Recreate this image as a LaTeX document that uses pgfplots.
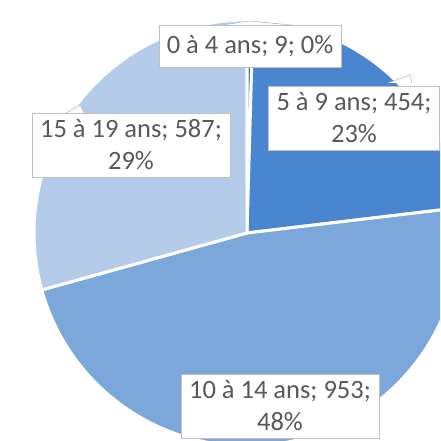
\documentclass[border=0pt]{standalone}
\usepackage{pgfplots}
\pgfplotsset{compat=1.18}
\usepackage{pgfplotstable}
\usepackage{fontspec}
\setmainfont{Carlito}

\definecolor{sliceA}{HTML}{2F5F9E}
\definecolor{sliceB}{HTML}{4A86CF}
\definecolor{sliceC}{HTML}{7CA7DB}
\definecolor{sliceD}{HTML}{B4CCEA}
\definecolor{lbltext}{HTML}{595959}
\definecolor{lblline}{HTML}{BFBFBF}

\tikzset{lbl/.style={fill=white, draw=lblline, text=lbltext, align=center,
    font=\fontsize{26.5}{32}\selectfont, inner xsep=8pt, inner ysep=7pt}}

% age group, count
\pgfplotstableread{
group value
0-4 9
5-9 454
10-14 953
15-19 587
}\agedata

\pgfplotstablegetelem{0}{value}\of\agedata \let\vA\pgfplotsretval
\pgfplotstablegetelem{1}{value}\of\agedata \let\vB\pgfplotsretval
\pgfplotstablegetelem{2}{value}\of\agedata \let\vC\pgfplotsretval
\pgfplotstablegetelem{3}{value}\of\agedata \let\vD\pgfplotsretval
\pgfmathsetmacro\total{\vA+\vB+\vC+\vD}
% slices run clockwise from 12 o'clock
\pgfmathsetmacro\aA{90}
\pgfmathsetmacro\aB{\aA-360*(\vA/\total)}
\pgfmathsetmacro\aC{\aB-360*(\vB/\total)}
\pgfmathsetmacro\aD{\aC-360*(\vC/\total)}
\pgfmathsetmacro\aE{\aD-360*(\vD/\total)}

\def\cx{247}
\def\cy{208}
\def\rad{213pt}

\begin{document}
\begin{tikzpicture}
\begin{axis}[
  width=440pt, height=441pt, scale only axis,
  xmin=0, xmax=440, ymin=0, ymax=441,
  hide axis, clip=true,
]
\filldraw[fill=sliceA, draw=white, line width=3pt]
  (axis cs:\cx,\cy) -- ++(\aA:\rad) arc[start angle=\aA, end angle=\aB, radius=\rad] -- cycle;
\filldraw[fill=sliceB, draw=white, line width=3pt]
  (axis cs:\cx,\cy) -- ++(\aB:\rad) arc[start angle=\aB, end angle=\aC, radius=\rad] -- cycle;
\filldraw[fill=sliceC, draw=white, line width=3pt]
  (axis cs:\cx,\cy) -- ++(\aC:\rad) arc[start angle=\aC, end angle=\aD, radius=\rad] -- cycle;
\filldraw[fill=sliceD, draw=white, line width=3pt]
  (axis cs:\cx,\cy) -- ++(\aD:\rad) arc[start angle=\aD, end angle=\aE, radius=\rad] -- cycle;

% callout pointers
\filldraw[fill=white, draw=lblline, line width=0.6pt]
  (axis cs:210,414) -- (axis cs:249,420) -- (axis cs:312,414);
\filldraw[fill=white, draw=lblline, line width=0.6pt]
  (axis cs:388,358) -- (axis cs:410,366) -- (axis cs:412,358);
\filldraw[fill=white, draw=lblline, line width=0.6pt]
  (axis cs:66,328) -- (axis cs:80,336) -- (axis cs:84,328);

\node[lbl, minimum height=42pt] at (axis cs:250,395) {0 à 4 ans; 9; 0\%};
\node[lbl] at (axis cs:354,323) {5 à 9 ans; 454;\\23\%};
\node[lbl] at (axis cs:131,296) {15 à 19 ans; 587;\\29\%};
\node[lbl] at (axis cs:280,35) {10 à 14 ans; 953;\\48\%};
\end{axis}
\pgfresetboundingbox
\path[use as bounding box] (current axis.south west) rectangle (current axis.north east);
\end{tikzpicture}
\end{document}
